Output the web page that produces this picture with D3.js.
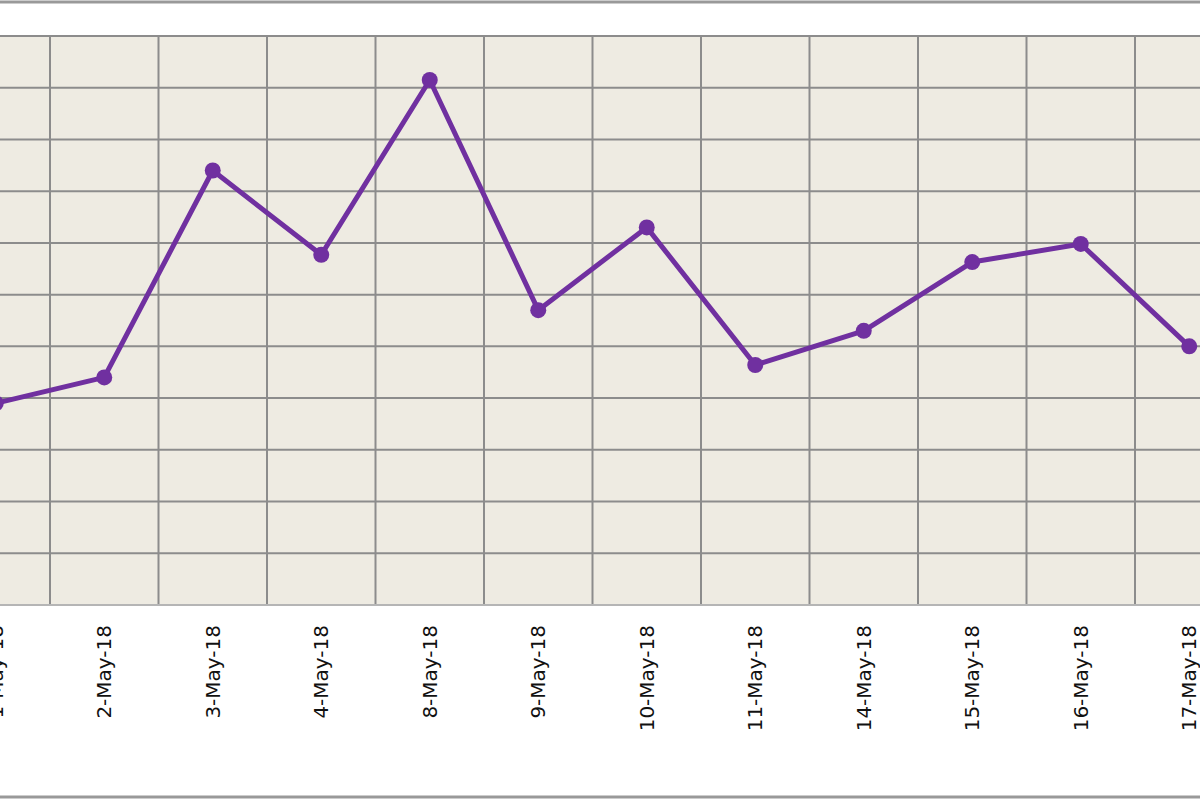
<!DOCTYPE html>
<html><head><meta charset="utf-8">
<script src="https://cdn.jsdelivr.net/npm/d3@7"></script>
<style>body{margin:0;background:#fff;overflow:hidden}</style>
</head><body>
<svg width="1200" height="800"></svg>
<script>
const dates = ["1-May-18","2-May-18","3-May-18","4-May-18","8-May-18","9-May-18","10-May-18","11-May-18","14-May-18","15-May-18","16-May-18","17-May-18"];
const values = [3.9, 4.4, 8.4, 6.77, 10.15, 5.7, 7.3, 4.64, 5.3, 6.63, 6.98, 5.0];
const yTicks = d3.range(0, 12);

const svg = d3.select("svg");
const plotTop = 36, plotBottom = 605;

// outer frame lines (chart is cropped at left/right)
svg.append("line").attr("x1", 0).attr("x2", 1200).attr("y1", 2).attr("y2", 2).attr("stroke", "#999").attr("stroke-width", 3);
svg.append("line").attr("x1", 0).attr("x2", 1200).attr("y1", 797).attr("y2", 797).attr("stroke", "#999").attr("stroke-width", 3);

var x = d3.scaleBand().domain(dates).range([-58.5, -58.5 + 12 * 108.5]);
var y = d3.scaleLinear().domain([0, 11]).range([plotBottom, plotTop]);

svg.append("rect").attr("x", 0).attr("y", plotTop).attr("width", 1200).attr("height", plotBottom - plotTop).attr("fill", "#eeebe2");

// horizontal grid
svg.append("g").selectAll("line").data(yTicks).enter().append("line")
  .attr("x1", 0).attr("x2", 1200)
  .attr("y1", d => y(d)).attr("y2", d => y(d))
  .attr("stroke", "#8c8c8c").attr("stroke-width", 2);

// vertical grid at band edges
svg.append("g").selectAll("line").data(dates.slice(1)).enter().append("line")
  .attr("x1", d => x(d)).attr("x2", d => x(d))
  .attr("y1", plotTop).attr("y2", plotBottom)
  .attr("stroke", "#8c8c8c").attr("stroke-width", 2);

svg.append("line").attr("x1", 0).attr("x2", 1200).attr("y1", plotBottom).attr("y2", plotBottom).attr("stroke", "#b5b5b5").attr("stroke-width", 2);

// labels
svg.append("g").selectAll("text").data(dates).enter().append("text")
  .attr("transform", d => "translate(" + (x(d) + x.bandwidth() / 2 + 7) + ",625)rotate(-90)")
  .attr("text-anchor", "end")
  .attr("font-family", "DejaVu Sans")
  .attr("font-size", "20px")
  .attr("fill", "#111")
  .text(d => d);

var cx = d => x(d) + x.bandwidth() / 2;
var line = d3.line().x((d, i) => cx(dates[i])).y(d => y(d));
svg.append("path").datum(values).attr("d", line)
  .attr("fill", "none").attr("stroke", "#7030a0").attr("stroke-width", 5).attr("stroke-linejoin", "round");

svg.append("g").selectAll("circle").data(values).enter().append("circle")
  .attr("cx", (d, i) => cx(dates[i])).attr("cy", d => y(d)).attr("r", 8)
  .attr("fill", "#7030a0");
</script>
</body></html>
